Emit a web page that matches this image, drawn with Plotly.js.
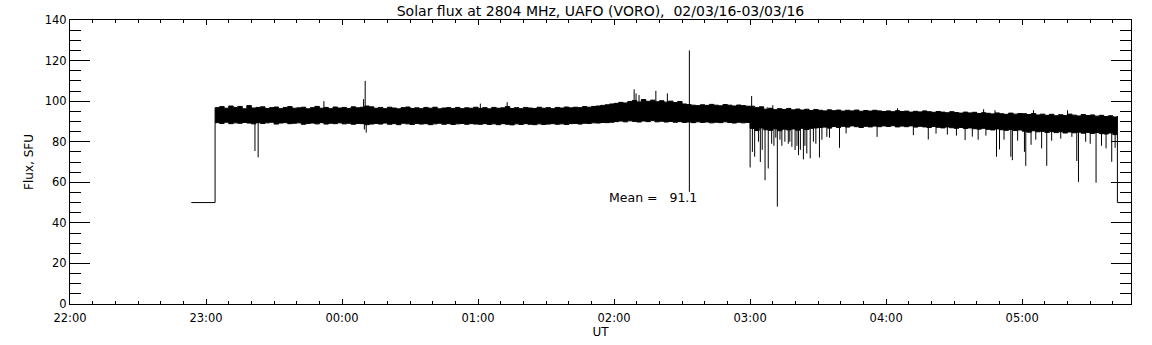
<!DOCTYPE html>
<html><head><meta charset="utf-8">
<script src="https://cdn.plot.ly/plotly-3.0.1.min.js"></script>
<style>html,body{margin:0;padding:0;background:#fff}#chart{width:1152px;height:345px}</style>
</head><body><div id="chart"></div>
<script>
// ---- data (UT clock times, flux in SFU) ----
const TITLE = "Solar flux at 2804 MHz, UAFO (VORO),\u00a0\u00a002/03/16-03/03/16";
const X_START = "22:00";            // axis start
const X_END = "05:48";              // axis end
const GAP_LEVEL = 50;               // flux value recorded while no data
const GAP_START = "22:53:30";       // first recorded sample (gap level)
const BAND_START = "23:04";         // first flux sample of the 2-minute envelope grid
const BAND_STEP_MIN = 2;            // envelope sampling, minutes
const MEAN_FLUX = 91.1;

// upper envelope of the 1-s flux record, every 2 minutes from 23:04
const fluxHigh = [
  96.8,97.3,96.5,97.6,96.9,97.4,96.2,97.8,96.6,96.9,97.2,96.4,96.8,97.1,96.3,96.9,97.3,96.5,96.7,97.0,96.2,96.8,97.4,96.5,96.9,96.3,97.1,96.6,
  96.9,96.4,97.2,96.7,97.0,97.6,97.2,96.5,96.9,96.3,97.0,96.6,96.2,96.8,97.1,96.4,96.7,96.3,96.9,96.5,97.0,96.2,96.6,96.8,96.4,96.9,96.3,96.7,96.5,97.0,
  96.4,96.8,96.2,96.9,96.5,96.7,97.3,96.4,96.8,96.3,96.9,96.6,96.4,97.0,96.5,96.8,96.3,96.9,96.6,97.1,96.7,97.0,96.8,97.3,97.0,97.4,97.6,97.9,98.2,98.6,
  98.9,99.4,99.1,99.8,100.3,99.6,100.8,99.9,100.5,99.7,100.2,99.5,100.0,99.3,99.8,98.6,98.3,98.0,97.8,98.2,97.9,98.4,98.0,97.7,98.3,98.0,97.6,98.1,97.8,97.5,
  97.5,96.8,97.2,96.0,96.5,95.8,96.3,95.9,96.4,95.7,96.1,95.6,96.0,95.4,95.9,95.5,95.2,95.7,95.3,95.6,95.1,95.5,95.2,95.6,95.0,95.4,95.1,95.5,95.2,94.9,
  95.2,94.8,95.3,94.9,95.1,94.6,95.0,94.7,95.2,94.8,94.5,94.9,94.6,94.3,94.8,94.4,94.1,94.6,94.2,94.5,93.9,94.3,94.0,93.7,94.2,93.8,93.5,94.1,93.6,93.9,
  93.8,93.4,93.9,93.2,93.6,93.0,93.5,92.8,93.3,92.9,93.6,93.1,92.7,93.4,92.9,93.2,92.6,93.0,92.4,92.8,92.2,92.6
];
// lower envelope, same grid
const fluxLow = [
  89.4,89.0,89.6,88.9,89.3,89.1,89.5,89.2,88.8,89.4,89.0,89.3,89.6,88.7,89.2,89.4,88.9,89.1,89.3,88.6,89.0,89.2,88.8,89.4,88.7,89.1,88.9,89.3,
  88.8,89.1,88.6,89.0,88.9,88.4,88.7,89.0,88.7,89.2,88.6,88.9,88.4,89.1,88.8,88.5,89.0,88.7,88.9,88.4,88.8,89.1,88.6,88.9,88.5,88.8,89.0,88.6,88.9,88.7,
  88.6,88.9,88.5,88.8,88.4,88.9,88.6,88.3,88.8,88.5,88.9,88.6,88.4,88.8,88.5,88.7,88.9,88.6,88.8,88.5,88.9,89.0,88.7,89.1,89.0,89.3,89.2,89.5,89.4,89.6,
  89.9,90.2,89.8,90.3,90.0,89.7,90.2,89.9,90.4,89.8,90.1,89.7,90.0,89.6,89.9,89.5,89.7,89.4,89.8,89.5,89.7,89.3,89.6,89.4,89.8,89.5,89.2,89.6,89.3,89.5,
  86.5,85.5,86.8,85.9,85.6,86.4,85.4,86.2,85.8,86.3,85.7,86.6,86.0,86.6,86.8,87.0,87.2,86.7,87.5,87.0,87.6,87.2,87.8,87.4,87.0,87.6,87.3,87.7,87.4,87.8,
  87.5,87.9,87.3,87.7,87.4,87.8,87.2,87.6,87.3,87.0,87.5,87.1,86.8,87.3,86.9,86.6,87.0,86.5,86.8,86.4,86.2,86.6,86.1,85.8,86.3,85.9,85.6,86.0,85.5,85.8,
  85.2,84.7,85.4,84.9,85.1,84.6,85.0,84.5,84.9,84.3,84.8,84.4,84.7,84.2,84.6,84.1,84.5,84.0,83.8,84.3,83.5,83.9
];
// isolated spikes (bursts and interference dips)
const spikeTimes = [
  "23:21:35","23:23:00","23:52:00","00:09:30","00:09:50","00:10:12","00:10:40","01:01:00","01:12:50",
  "02:08:50","02:09:40","02:11:00","02:18:25","02:20:30","02:23:30","02:33:12","02:33:12",
  "03:00:00","03:00:40","03:01:00","03:02:00","03:03:40","03:04:30","03:05:20","03:06:35","03:07:30","03:08:00",
  "03:09:30","03:10:00","03:10:30","03:11:20","03:12:00","03:13:10","03:14:00",
  "03:15:20","03:16:50","03:17:30","03:18:25","03:19:50","03:20:40","03:21:20","03:22:10","03:23:30","03:24:10",
  "03:25:00","03:26:30","03:27:55","03:29:00","03:30:35","03:31:40","03:33:50","03:35:00","03:39:25","03:42:20",
  "03:56:00","04:05:00","04:12:00","04:18:35","04:22:00","04:27:00","04:31:00","04:34:50","04:38:00","04:40:35",
  "04:43:00","04:44:00","04:48:00","04:48:40","04:50:00","04:52:00","04:55:00","04:55:40","04:58:00",
  "05:01:00","05:01:35","05:03:55","05:05:00","05:06:00","05:08:35","05:10:50","05:13:00","05:17:00",
  "05:20:00","05:21:55","05:24:05","05:24:50","05:28:00","05:30:00","05:32:35","05:35:00","05:37:00","05:39:30","05:41:00"
];
const spikeFlux = [
  75.4,72.3,100.0,101.0,86.0,110.0,84.5,98.8,99.5,
  105.8,103.8,103.0,105.1,99.7,103.8,125.0,55.3,
  67.3,102.5,75.0,72.6,80.0,70.0,76.0,61.0,97.0,66.8,
  79.0,98.0,78.0,82.0,48.0,81.0,78.0,
  80.0,79.0,80.0,77.5,75.9,78.0,73.4,76.0,71.3,78.0,
  74.2,71.8,80.0,79.0,72.2,81.0,82.4,82.0,77.0,84.1,
  82.4,96.5,83.2,81.1,84.0,83.5,83.0,80.8,82.5,81.0,
  96.0,83.0,95.5,72.6,76.2,81.0,72.6,70.9,80.5,
  75.0,68.1,78.5,95.5,81.0,76.7,68.1,80.5,81.5,
  95.5,82.4,70.5,60.2,80.0,79.0,59.8,78.0,76.7,70.1,77.0
];

// ---- helpers ----
function toMs(s){
  const p = s.split(':').map(Number);
  const h = p[0], m = p[1], sec = p[2] || 0;
  return Date.UTC(2016, 2, h >= 12 ? 2 : 3, h, m, sec);
}
function iso(ms){ return new Date(ms).toISOString().replace('T',' ').replace('Z',''); }

const bandStartMs = toMs(BAND_START);
const stepMs = BAND_STEP_MIN * 60000;
const bandX = fluxHigh.map((_, i) => iso(bandStartMs + i * stepMs));

// spikes drawn from the band middle to the spike value
const spX = [], spY = [];
spikeTimes.forEach((t, k) => {
  const ms = toMs(t);
  let idx = Math.round((ms - bandStartMs) / stepMs);
  idx = Math.max(0, Math.min(fluxHigh.length - 1, idx));
  const mid = (fluxHigh[idx] + fluxLow[idx]) / 2;
  spX.push(iso(ms), iso(ms), null);
  spY.push(mid, spikeFlux[k], null);
});

const lastIdx = fluxHigh.length - 1;
const traces = [
  { x: bandX, y: fluxLow, type: 'scatter', mode: 'lines',
    line: { color: '#000', width: 1, shape: 'hv' }, hoverinfo: 'skip' },
  { x: bandX, y: fluxHigh, type: 'scatter', mode: 'lines', fill: 'tonexty', fillcolor: '#000',
    line: { color: '#000', width: 1, shape: 'hv' }, hoverinfo: 'skip' },
  { x: spX, y: spY, type: 'scatter', mode: 'lines', line: { color: '#000', width: 1 }, hoverinfo: 'skip' },
  { x: [iso(toMs(GAP_START)), bandX[0], bandX[0]], y: [GAP_LEVEL, GAP_LEVEL, fluxHigh[0]],
    type: 'scatter', mode: 'lines', line: { color: '#000', width: 1 }, hoverinfo: 'skip' },
  { x: [bandX[lastIdx], bandX[lastIdx], iso(toMs(X_END))], y: [fluxHigh[lastIdx], GAP_LEVEL, GAP_LEVEL],
    type: 'scatter', mode: 'lines', line: { color: '#000', width: 1 }, hoverinfo: 'skip' }
];

const layout = {
  width: 1152, height: 345,
  margin: { l: 70, r: 21, t: 20, b: 41 },
  paper_bgcolor: '#fff', plot_bgcolor: '#fff',
  showlegend: false,
  font: { family: 'DejaVu Sans', size: 12, color: '#000' },
  title: { text: TITLE, font: { family: 'DejaVu Sans', size: 14, color: '#000' },
           xref: 'paper', x: 0.5, xanchor: 'center', yref: 'container', y: 0.968, yanchor: 'middle' },
  xaxis: {
    type: 'date', range: [iso(toMs(X_START)), iso(toMs(X_END))],
    tick0: iso(toMs(X_START)), dtick: 3600000, tickformat: '%H:%M',
    ticks: 'inside', ticklen: 5, tickwidth: 1, tickcolor: '#000',
    minor: { dtick: 600000, ticks: 'inside', ticklen: 3, tickcolor: '#000', showgrid: false },
    showline: true, linecolor: '#000', linewidth: 1, mirror: 'ticks',
    showgrid: false, zeroline: false,
    ticklabelstandoff: 3,
    tickfont: { size: 11.5, color: '#000' },
    title: { text: 'UT', standoff: 1, font: { size: 12, color: '#000' } }
  },
  yaxis: {
    range: [0, 140], tick0: 0, dtick: 20,
    ticks: 'inside', ticklen: 20, tickwidth: 1, tickcolor: '#000',
    minor: { dtick: 5, ticks: 'inside', ticklen: 11, tickcolor: '#000', showgrid: false },
    showline: true, linecolor: '#000', linewidth: 1, mirror: 'ticks',
    showgrid: false, zeroline: false,
    tickfont: { size: 11.5, color: '#000' },
    title: { text: 'Flux, SFU', standoff: 8, font: { size: 12, color: '#000' } }
  },
  annotations: [{
    xref: 'x', yref: 'y', x: iso(toMs("01:57:00")), y: 52.5,
    text: 'Mean =\u00a0\u00a0\u00a0' + MEAN_FLUX.toFixed(1),
    showarrow: false, xanchor: 'left', yanchor: 'middle',
    font: { family: 'DejaVu Sans', size: 12.5, color: '#000' }
  }]
};

Plotly.newPlot('chart', traces, layout, { displayModeBar: false, staticPlot: true });
</script></body></html>
